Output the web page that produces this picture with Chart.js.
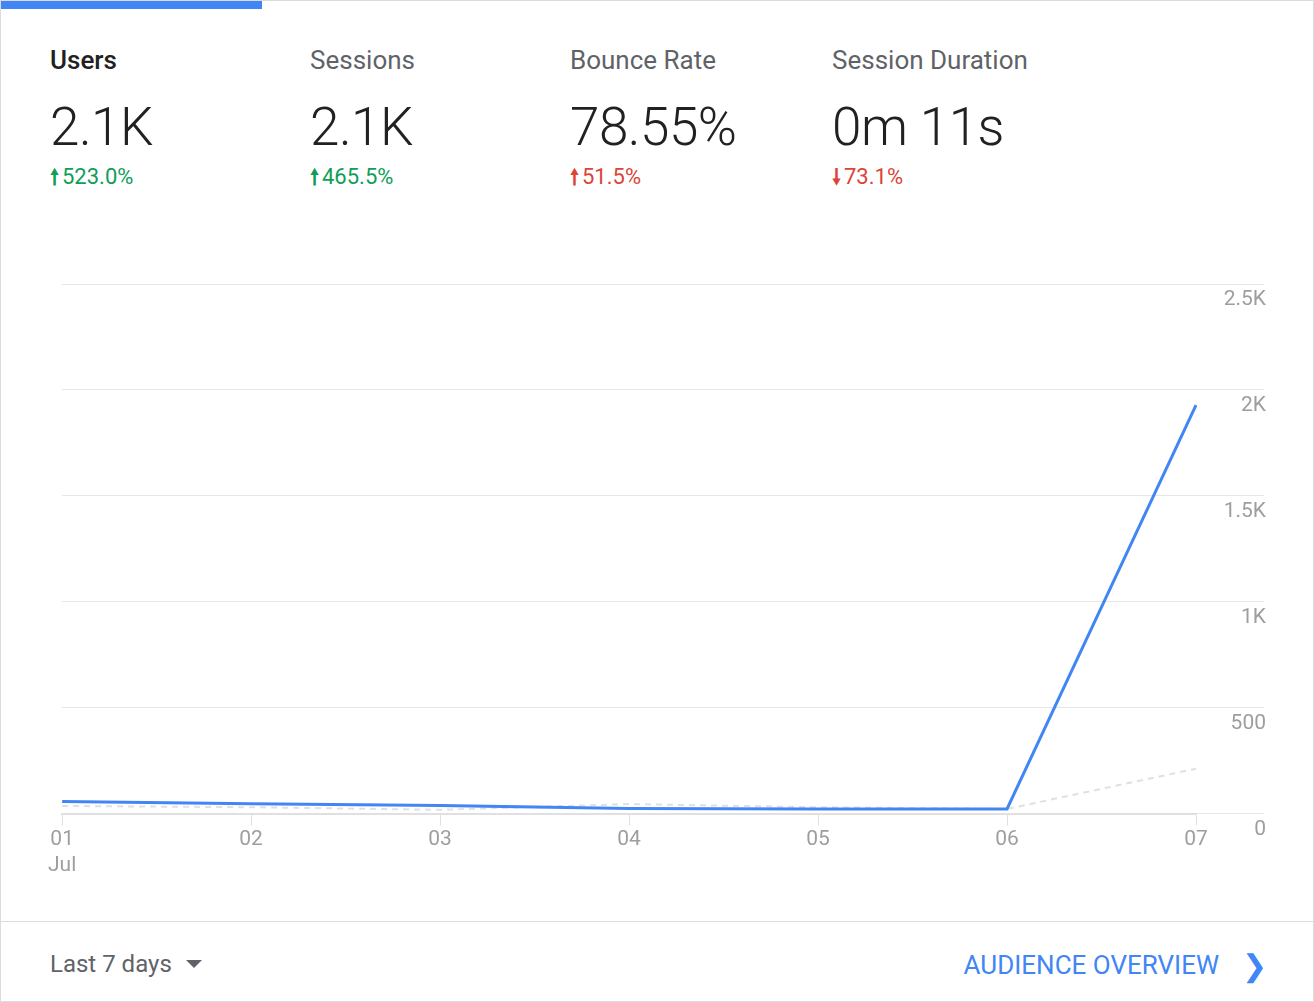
<!DOCTYPE html>
<html>
<head>
<meta charset="utf-8">
<script src="https://cdn.jsdelivr.net/npm/chart.js@4/dist/chart.umd.min.js"></script>
<style>
  body { margin: 0; background: #fff; font-family: Roboto, sans-serif; }
  .card { position: relative; width: 1312px; height: 1000px; border: 1px solid #dadce0; }
  .bar { position: absolute; left: 0; top: 0; width: 261px; height: 8px; background: #4285f4; }
  .stat { position: absolute; top: 44px; }
  .stat .t { font-size: 26px; color: #5f6368; }
  .stat .v { font-size: 53px; color: #212121; font-weight: 300; margin-top: 26px; line-height: 1; letter-spacing: -0.5px; }
  .stat .d { font-size: 22px; margin-top: 8px; }
  .stat .d b { font-size: 21px; margin-right: 3px; }
  .up { color: #0f9d58; } .bad { color: #db4437; }
  .chartbox { position: absolute; left: 45px; top: 270px; width: 1220px; height: 609px; }
  .foot { position: absolute; left: 0; right: 0; top: 920px; border-top: 1px solid #dadce0; height: 80px; }
  .range { position: absolute; left: 49px; top: 28px; font-size: 24px; color: #5f6368; }
  .range:after { content: ''; display: inline-block; margin-left: 14px; border: 8px solid transparent; border-top: 8px solid #5f6368; vertical-align: -4px; }
  .link { position: absolute; right: 94px; top: 28px; font-size: 26px; color: #4285f4; }
  .chev { position: absolute; right: 46px; top: 26px; font-size: 30px; color: #4285f4; }
</style>
</head>
<body>
<div class="card">
  <div class="bar"></div>
  <div class="stat" style="left:49px"><div class="t" style="color:#212121;font-weight:500">Users</div><div class="v">2.1K</div><div class="d up"><b>🠕</b>523.0%</div></div>
  <div class="stat" style="left:309px"><div class="t">Sessions</div><div class="v">2.1K</div><div class="d up"><b>🠕</b>465.5%</div></div>
  <div class="stat" style="left:569px"><div class="t">Bounce Rate</div><div class="v">78.55%</div><div class="d bad"><b>🠕</b>51.5%</div></div>
  <div class="stat" style="left:831px"><div class="t">Session Duration</div><div class="v">0m 11s</div><div class="d bad"><b>🠗</b>73.1%</div></div>
  <div class="chartbox"><canvas id="c"></canvas></div>
  <div class="foot">
    <div class="range">Last 7 days</div>
    <div class="link">AUDIENCE OVERVIEW</div>
    <div class="chev">&#x276F;</div>
  </div>
</div>
<script>
const days = [['01', 'Jul'], '02', '03', '04', '05', '06', '07'];
const usersCurrent = [57, 47, 38, 24, 22, 22, 1928];
const usersPrevious = [36, 30, 18, 45, 30, 22, 212];
const yTicks = [0, 500, 1000, 1500, 2000, 2500];
const tickNames = ['0', '500', '1K', '1.5K', '2K', '2.5K'];

new Chart(document.getElementById('c'), {
  type: 'line',
  data: {
    labels: days,
    datasets: [
      { data: usersCurrent, borderColor: '#4285f4', borderWidth: 3, pointRadius: 0, tension: 0 },
      { data: usersPrevious, borderColor: '#e0e0e0', borderWidth: 2, borderDash: [6, 5], pointRadius: 0, tension: 0 }
    ]
  },
  options: {
    responsive: true, maintainAspectRatio: false, animation: false,
    layout: { padding: { left: 8, top: 13 } },
    plugins: { legend: { display: false }, tooltip: { enabled: false } },
    scales: {
      x: {
        grid: { color: '#e0e0e0', drawOnChartArea: false, tickLength: 12 },
        border: { color: '#e0e0e0', width: 2 },
        ticks: { color: '#9e9e9e', font: { family: 'Roboto', size: 21 }, padding: 2, maxRotation: 0 }
      },
      y: {
        position: 'right', min: 0, max: 2500,
        afterBuildTicks: s => { s.ticks = yTicks.map(v => ({ value: v })); },
        afterFit: s => { s.width = 70; },
        grid: { color: '#e6e6e6', tickLength: 68 },
        border: { display: false },
        ticks: {
          color: '#9e9e9e', font: { family: 'Roboto', size: 21 }, crossAlign: 'far', padding: -66,
          labelOffset: 16,
          callback: (v) => tickNames[yTicks.indexOf(v)]
        }
      }
    }
  }
});
</script>
</body>
</html>
